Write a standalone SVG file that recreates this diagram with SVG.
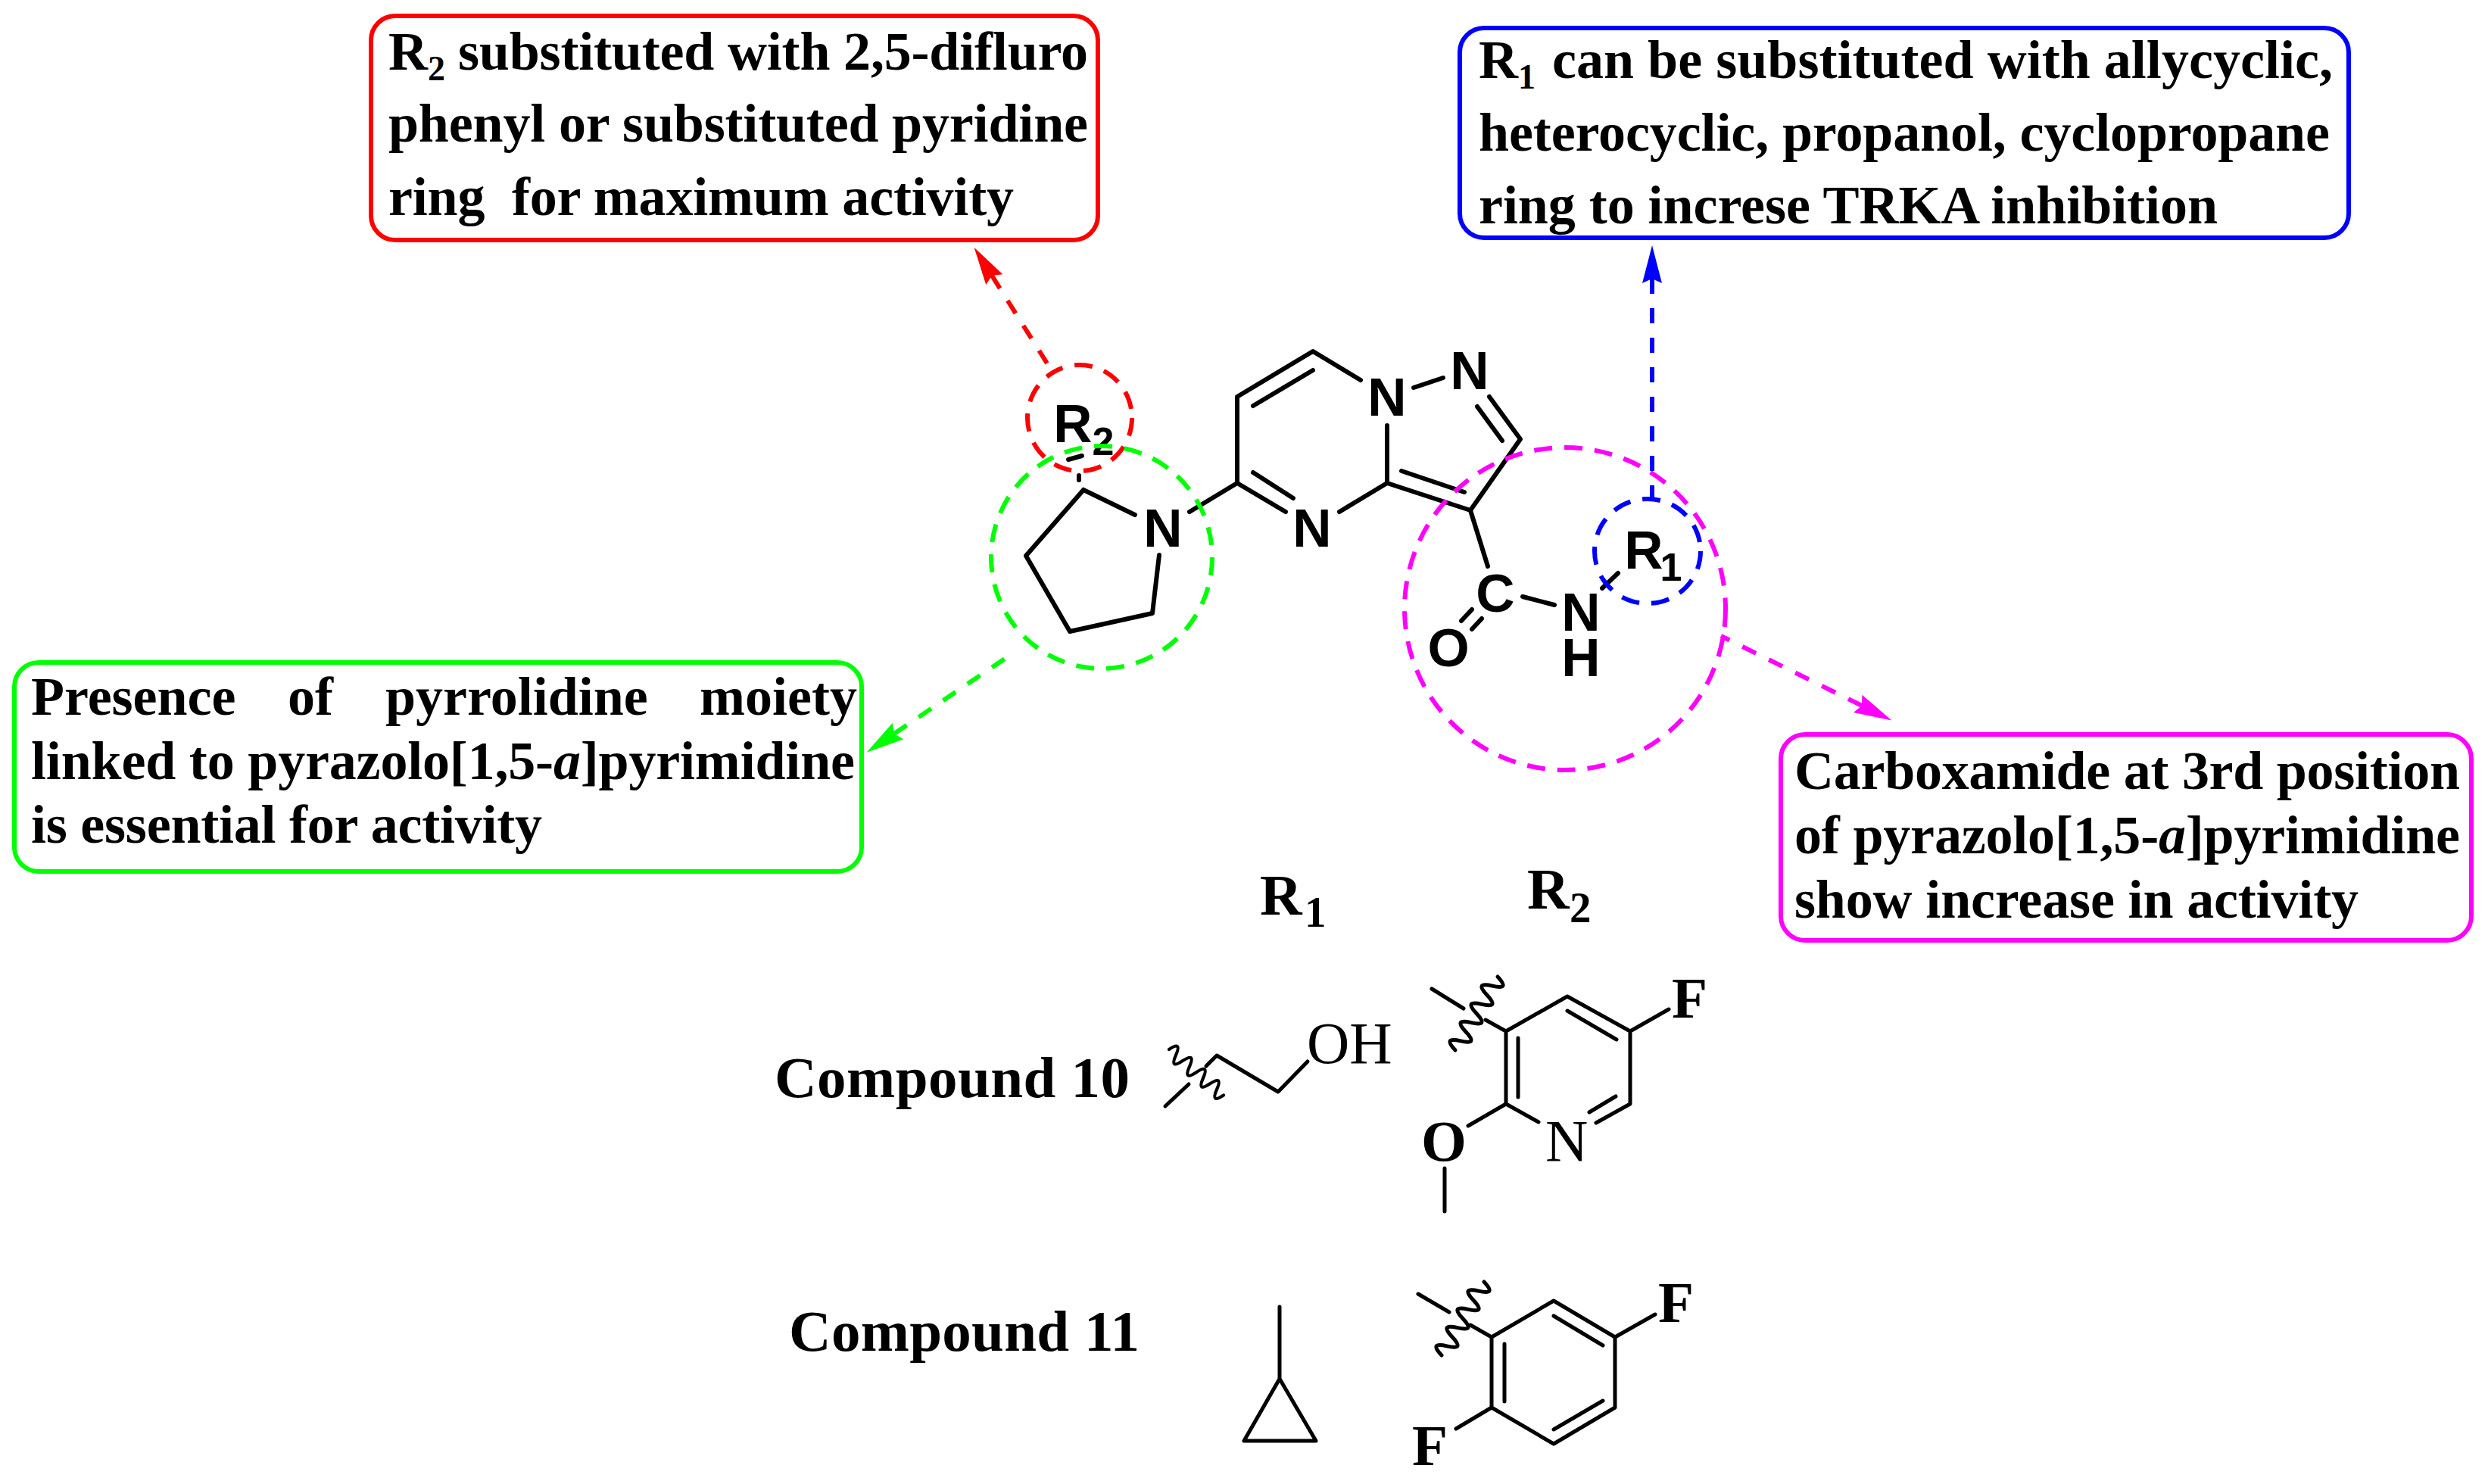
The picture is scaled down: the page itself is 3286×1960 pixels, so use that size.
<svg xmlns="http://www.w3.org/2000/svg" width="3286" height="1960" viewBox="0 0 3286 1960">
<style>
.box{fill:#fff;stroke-width:6}
.t{font-family:"Liberation Serif","Times New Roman",serif;font-weight:bold;font-size:72px;fill:#000}
.it{font-style:italic}
.sub{font-size:46px}
.sub2{font-size:57px}
.big{font-size:77px}
.reg{font-weight:normal;font-size:78px}
.a{font-family:"Liberation Sans",Arial,sans-serif;font-weight:bold;font-size:71px;fill:#000;text-anchor:middle}
.a2{font-size:52px}
.bond{fill:none;stroke:#000;stroke-width:6;stroke-linecap:round;stroke-linejoin:round}
.thin{stroke-width:5}
.ring{fill:none;stroke-width:6;stroke-dasharray:24 16}
.link{fill:none;stroke-width:6;stroke-dasharray:20 19}
.r{stroke:#f00}.g{stroke:#0f0}.b{stroke:#00f}.m{stroke:#f0f}
</style>
<defs>
<marker id="hr" markerUnits="userSpaceOnUse" viewBox="0 -13 50 26" markerWidth="50" markerHeight="26" refX="6" refY="0" orient="auto-start-reverse"><path d="M50 0L0-13L6 0L0 13Z" fill="#f00"/></marker>
<marker id="hg" markerUnits="userSpaceOnUse" viewBox="0 -13 50 26" markerWidth="50" markerHeight="26" refX="6" refY="0" orient="auto-start-reverse"><path d="M50 0L0-13L6 0L0 13Z" fill="#0f0"/></marker>
<marker id="hb" markerUnits="userSpaceOnUse" viewBox="0 -13 50 26" markerWidth="50" markerHeight="26" refX="6" refY="0" orient="auto-start-reverse"><path d="M50 0L0-13L6 0L0 13Z" fill="#00f"/></marker>
<marker id="hm" markerUnits="userSpaceOnUse" viewBox="0 -13 50 26" markerWidth="50" markerHeight="26" refX="6" refY="0" orient="auto-start-reverse"><path d="M50 0L0-13L6 0L0 13Z" fill="#f0f"/></marker>
<path id="wave" d="M0 0q7-24 14 0t14 0t14 0t14 0t14 0t14 0t14 0t14 0" class="bond thin"/>
</defs>
<rect width="3286" height="1960" fill="#fff"/>

<g id="box-r2">
<rect class="box r" x="490" y="21" width="960" height="296" rx="32"/>
<text class="t" x="513" y="92">R<tspan class="sub" dy="14">2</tspan><tspan x="605" dy="-14" textLength="832">substituted with 2,5-difluro</tspan></text>
<text class="t" x="513" y="187" textLength="924">phenyl or substituted pyridine</text>
<text class="t" x="513" y="284" textLength="826" xml:space="preserve">ring  for maximum activity</text>
</g>

<g id="box-r1">
<rect class="box b" x="1928" y="37" width="1174" height="277" rx="32"/>
<text class="t" x="1953" y="103">R<tspan class="sub" dy="14">1</tspan><tspan x="2050" dy="-14" textLength="1031">can be substituted with allycyclic,</tspan></text>
<text class="t" x="1953" y="199" textLength="1124">heterocyclic, propanol, cyclopropane</text>
<text class="t" x="1953" y="295" textLength="976">ring to increse TRKA inhibition</text>
</g>

<g id="box-pyrrolidine">
<rect class="box g" x="19" y="875" width="1119" height="276" rx="32"/>
<text class="t" y="944"><tspan x="41">Presence</tspan> <tspan x="380">of</tspan> <tspan x="509">pyrrolidine</tspan> <tspan x="924">moiety</tspan></text>
<text class="t" x="41" y="1029" textLength="1088">linked to pyrazolo[1,5-<tspan class="it">a</tspan>]pyrimidine</text>
<text class="t" x="41" y="1113" textLength="675">is essential for activity</text>
</g>

<g id="box-carboxamide">
<rect class="box m" x="2352" y="970" width="912" height="272" rx="32"/>
<text class="t" x="2370" y="1042" textLength="879">Carboxamide at 3rd position</text>
<text class="t" x="2370" y="1127" textLength="879">of pyrazolo[1,5-<tspan class="it">a</tspan>]pyrimidine</text>
<text class="t" x="2370" y="1212" textLength="745">show increase in activity</text>
</g>

<g id="scaffold">
<path class="bond" d="M1431 647L1499 680M1531 733L1522 810L1413 834L1355 734L1431 647M1571 676L1634 638L1698 676M1655 624L1708 658M1769 676L1832 638L1832 562M1797 502L1734 464L1634 524L1634 638M1734 489L1655 536M1867 512L1906 499M1967 524L2008 580L1942 674L1832 638M1951 537L1984 582M1851 622L1934 650M1942 674L1965 748M2011 788L2053 799M1944 805L1930 820M1957 817L1944 831M2137 757L2116 777M1425 634L1425 628M1411 607L1429 602"/>
<text class="a" x="1536" y="722">N</text>
<text class="a" x="1733" y="722">N</text>
<text class="a" x="1832" y="549">N</text>
<text class="a" x="1941" y="514">N</text>
<text class="a" x="1975" y="808">C</text>
<text class="a" x="1913" y="880">O</text>
<text class="a" x="2088" y="833">N<tspan x="2088" y="893">H</tspan></text>
<text class="a" x="2171" y="751">R<tspan class="a2" x="2207" y="767">1</tspan></text>
<text class="a" x="1417" y="584">R<tspan class="a2" x="1457" y="601">2</tspan></text>
</g>

<g id="table-heads">
<text class="t big" x="1664" y="1208">R<tspan class="sub2" x="1723" y="1224">1</tspan></text>
<text class="t big" x="2017" y="1200">R<tspan class="sub2" x="2073" y="1218">2</tspan></text>
</g>

<g id="compound-10">
<text class="t big" x="1023" y="1449" textLength="469">Compound 10</text>
<path class="bond thin" d="M1539 1461L1570 1432M1593 1408L1607 1394L1688 1442L1727 1402"/>
<use href="#wave" transform="translate(1544 1386) rotate(40) scale(.84)"/>
<text class="t reg" x="1726" y="1404">OH</text>
<path class="bond thin" d="M1891 1306L1933 1332M1962 1347L1989 1362L2070 1316L2153 1362L2153 1458L2108 1483M2032 1482L1989 1458L1989 1362M2070 1335L2135 1373M2005 1371L2005 1449M2134 1448L2099 1469M2153 1362L2204 1333M1989 1458L1939 1487M1908 1543L1908 1600"/>
<use href="#wave" transform="translate(1978 1290) rotate(120)"/>
<text class="t big" x="2208" y="1344">F</text>
<text class="t big" x="1877" y="1533">O</text>
<text class="t reg" x="2041" y="1533">N</text>
</g>

<g id="compound-11">
<text class="t big" x="1042" y="1784" textLength="463">Compound 11</text>
<path class="bond thin" d="M1690 1726L1690 1821L1643 1903L1738 1903L1690 1821"/>
<path class="bond thin" d="M1873 1709L1914 1733M1942 1750L1970 1766L2052 1718L2133 1766L2133 1859L2052 1907L1970 1859L1970 1766M2052 1738L2117 1777M1987 1775L1987 1851M2117 1850L2052 1888M2133 1766L2186 1736M1970 1859L1923 1887"/>
<use href="#wave" transform="translate(1960 1693) rotate(120)"/>
<text class="t big" x="2190" y="1746">F</text>
<text class="t big" x="1865" y="1935">F</text>
</g>

<g id="connectors">
<ellipse class="ring r" cx="1426" cy="552" rx="69" ry="70"/>
<ellipse class="ring g" cx="1455" cy="736" rx="146" ry="147"/>
<ellipse class="ring m" cx="2067" cy="804" rx="212" ry="213"/>
<ellipse class="ring b" cx="2176" cy="728" rx="70" ry="69"/>
<path class="link r" d="M1310 364L1383 480" marker-start="url(#hr)"/>
<path class="link g" d="M1181 969L1327 870" marker-start="url(#hg)"/>
<path class="link b" d="M2182 368L2182 661" marker-start="url(#hb)"/>
<path class="link m" d="M2459 932L2273 840" marker-start="url(#hm)"/>
</g>
</svg>
